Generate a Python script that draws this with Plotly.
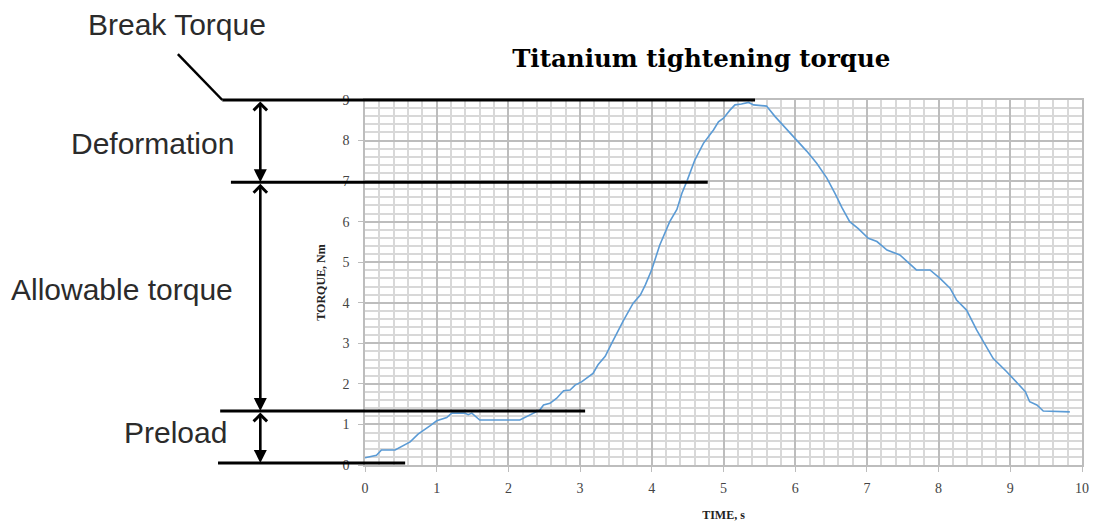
import plotly.graph_objects as go

# ---- data ----
time_s = [0, 0.16, 0.23, 0.42, 0.63, 0.74, 0.91, 1.0, 1.14, 1.21, 1.39, 1.44, 1.49, 1.6,
          2.16, 2.25, 2.44, 2.49, 2.58, 2.67, 2.77, 2.86, 2.93, 3.02, 3.12, 3.18, 3.25,
          3.35, 3.44, 3.6, 3.74, 3.84, 3.91, 4.0, 4.11, 4.25, 4.35, 4.42, 4.49, 4.6, 4.72,
          4.86, 4.93, 5.0, 5.09, 5.16, 5.25, 5.35, 5.42, 5.6, 5.72, 5.86, 6.0, 6.16, 6.3,
          6.44, 6.56, 6.65, 6.76, 6.88, 7.02, 7.14, 7.28, 7.46, 7.69, 7.88, 8.02, 8.16,
          8.25, 8.39, 8.53, 8.67, 8.76, 8.95, 9.09, 9.21, 9.27, 9.37, 9.46, 9.83]
torque_nm = [0.18, 0.24, 0.37, 0.37, 0.57, 0.76, 0.97, 1.09, 1.17, 1.28, 1.28, 1.24, 1.28, 1.11,
             1.11, 1.19, 1.36, 1.48, 1.52, 1.64, 1.83, 1.85, 1.97, 2.05, 2.19, 2.26, 2.47,
             2.68, 3.0, 3.55, 3.99, 4.19, 4.44, 4.82, 5.42, 6.0, 6.3, 6.7, 7.0, 7.52, 7.93,
             8.26, 8.46, 8.55, 8.75, 8.88, 8.9, 8.94, 8.88, 8.85, 8.59, 8.32, 8.04, 7.74, 7.44,
             7.08, 6.68, 6.35, 6.0, 5.83, 5.59, 5.51, 5.3, 5.18, 4.81, 4.81, 4.6, 4.36,
             4.07, 3.82, 3.33, 2.92, 2.63, 2.3, 2.05, 1.81, 1.56, 1.48, 1.33, 1.31]

x_ticks = [0, 1, 2, 3, 4, 5, 6, 7, 8, 9, 10]
y_ticks = [0, 1, 2, 3, 4, 5, 6, 7, 8, 9]

# annotation levels (torque, Nm) and how far right each marker line reaches (time, s)
level_names = ["Break Torque", "Allowable limit", "Preload", "Zero"]
level_values = [9.0, 6.97, 1.33, 0.05]
level_reach = [5.44, 4.78, 3.07, 0.56]

band_labels = ["Deformation", "Allowable torque", "Preload"]

X_MAX, Y_MAX = 10, 9

fig = go.Figure()
fig.add_trace(go.Scatter(x=time_s, y=torque_nm, mode="lines",
                         line=dict(color="#5b9bd5", width=1.6),
                         showlegend=False, hoverinfo="x+y"))

def py(v):
    return v / Y_MAX

def px_(t):
    return t / X_MAX

shapes = []
for val, reach, lft in zip(level_values, level_reach, [-0.199, -0.187, -0.202, -0.205]):
    shapes.append(dict(type="line", xref="paper", yref="paper",
                       x0=lft, x1=px_(reach), y0=py(val), y1=py(val),
                       line=dict(color="black", width=3)))
# diagonal leader for "Break Torque"
shapes.append(dict(type="line", xref="paper", yref="paper",
                   x0=-0.261, y0=1.126, x1=-0.199, y1=py(level_values[0]),
                   line=dict(color="black", width=2.5)))

annotations = []
ARROW_X = -0.146
for i in range(3):
    top, bot = level_values[i], level_values[i + 1]
    annotations.append(dict(xref="paper", yref="y", x=ARROW_X, y=bot,
                            axref="pixel", ayref="y", ax=0, ay=top,
                            showarrow=True, arrowside="end+start",
                            arrowhead=2, startarrowhead=4,
                            arrowsize=1.0, startarrowsize=1.0,
                            arrowwidth=2.6, arrowcolor="black", text=""))

text_font = dict(family="Liberation Sans, Arial, sans-serif", size=30, color="#2b2b2b")
label_pos = [(-0.262, 1.208, "Break Torque"),
             (-0.297, 0.882, band_labels[0]),
             (-0.339, 0.482, band_labels[1]),
             (-0.264, 0.088, band_labels[2])]
for x, y, t in label_pos:
    annotations.append(dict(xref="paper", yref="paper", x=x, y=y, text=t,
                            showarrow=False, font=text_font,
                            xanchor="center", yanchor="middle"))

grid_major = "#bdbdbd"
grid_minor = "#d8d8d8"
tick_font = dict(family="Liberation Serif, serif", size=14, color="#444444")
title_font_small = dict(family="Liberation Serif, serif", size=12, color="#222")

fig.update_layout(
    width=1098, height=526,
    margin=dict(l=365, r=16, t=100, b=61, autoexpand=False),
    paper_bgcolor="white", plot_bgcolor="white",
    title=dict(text="<b>Titanium tightening torque</b>",
               font=dict(family="DejaVu Serif, serif", size=24.5, color="black"),
               x=0.469, xref="paper", xanchor="center",
               y=1 - 58 / 526, yref="container", yanchor="middle"),
    xaxis=dict(range=[0, X_MAX], tickvals=x_ticks, ticktext=[str(v) for v in x_ticks],
               automargin=False,
               showgrid=True, gridcolor=grid_major, gridwidth=2,
               minor=dict(dtick=0.2, showgrid=True, gridcolor=grid_minor, gridwidth=1.5),
               showline=True, linecolor=grid_major, linewidth=1.5, mirror=True,
               ticks="outside", ticklen=5, tickcolor=grid_major,
               tickfont=tick_font, zeroline=False, ticklabelstandoff=4,
               title=dict(text="<b>TIME, s</b>", font=title_font_small, standoff=16)),
    yaxis=dict(range=[0, Y_MAX], tickvals=y_ticks, ticktext=[str(v) for v in y_ticks],
               automargin=False,
               showgrid=True, gridcolor=grid_major, gridwidth=2,
               minor=dict(dtick=0.2, showgrid=True, gridcolor=grid_minor, gridwidth=1.5),
               showline=True, linecolor=grid_major, linewidth=1.5, mirror=True,
               ticks="outside", ticklen=5, tickcolor=grid_major,
               tickfont=tick_font, zeroline=False, ticklabelstandoff=6,
               title=dict(text="<b>TORQUE, Nm</b>", font=title_font_small, standoff=14)),
    shapes=shapes,
    annotations=annotations,
)

fig.write_html("out.html", config={"displayModeBar": False},
               post_script="document.body.style.margin='0px';")
